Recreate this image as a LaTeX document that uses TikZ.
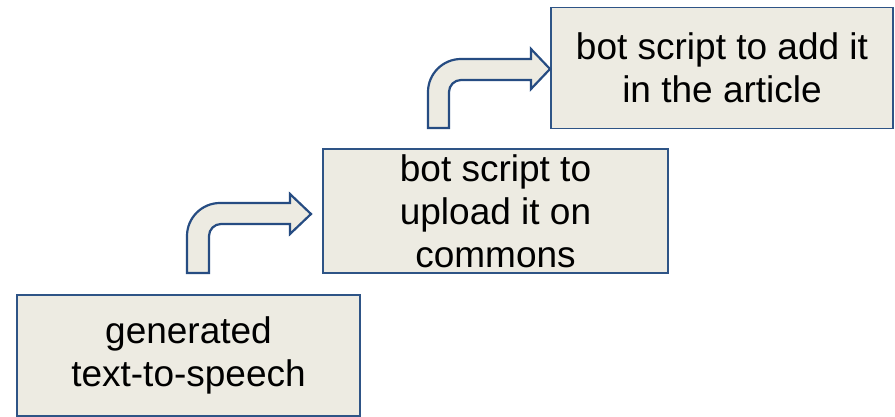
\documentclass[tikz,border=0pt]{standalone}
\usepackage{fontspec}
\setmainfont{Liberation Sans}
\definecolor{boxfill}{RGB}{237,235,226}
\definecolor{boxline}{RGB}{46,84,134}
\definecolor{arrowline}{RGB}{38,76,130}
\begin{document}
\begin{tikzpicture}[x=1pt,y=-1pt,
  stepbox/.style={draw=boxline,line width=1.8pt,fill=boxfill,inner sep=0pt,
    minimum width=#1,align=center,font=\fontsize{37}{43}\selectfont},
  bentarrow/.style={draw=arrowline,line width=2.2pt,fill=boxfill,line join=miter}]
\useasboundingbox[fill=white] (0,0) rectangle (895,417);
% boxes
\node[stepbox=343pt,minimum height=121pt] (b1) at (188.5,355.5) {generated\\text-to-speech};
\node[stepbox=345pt,minimum height=124pt] (b2) at (495.5,211) {bot script to\\upload it on\\commons};
\node[stepbox=342pt,minimum height=121pt] (b3) at (722,68) {bot script to add it\\in the article};
% bent arrows
\draw[bentarrow] (187,273) -- (187,236) .. controls (187,217.8) and (201.8,203) .. (220,203)
  -- (290,203) -- (290,194) -- (311,214) -- (290,234) -- (290,224) -- (221,224)
  .. controls (214.4,224) and (209,229.4) .. (209,236) -- (209,273) -- cycle;
\draw[bentarrow] (428,128) -- (428,92) .. controls (428,73.8) and (442.8,59) .. (461,59)
  -- (531,59) -- (531,49) -- (550,69) -- (531,89) -- (531,80) -- (461,80)
  .. controls (454.4,80) and (449,85.4) .. (449,92) -- (449,128) -- cycle;
\end{tikzpicture}
\end{document}
